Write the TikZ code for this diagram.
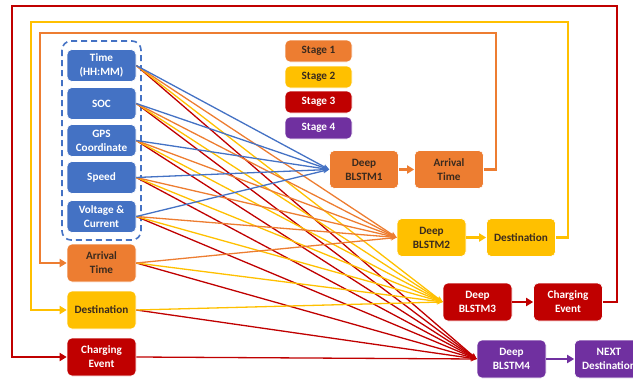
\documentclass[tikz,border=0pt]{standalone}
\usepackage{fontspec}
\setmainfont{Carlito}
\usetikzlibrary{arrows.meta}
\definecolor{cblue}{HTML}{4472C4}
\definecolor{corange}{HTML}{ED7D31}
\definecolor{cyellow}{HTML}{FFC000}
\definecolor{cred}{HTML}{C00000}
\definecolor{cpurple}{HTML}{7030A0}
\definecolor{ctext}{HTML}{3A2A1E}
\tikzset{
  box/.style={rounded corners=5pt, minimum width=69pt, minimum height=38pt, inner sep=1pt,
    align=center, font=\fontsize{11.2}{14}\selectfont\bfseries, draw=white, line width=0.6pt},
  bluebox/.style={box, fill=cblue, text=white, minimum height=32pt},
  orangebox/.style={box, fill=corange, text=ctext},
  yellowbox/.style={box, fill=cyellow, text=ctext},
  redbox/.style={box, fill=cred, text=white},
  purplebox/.style={box, fill=cpurple, text=white},
  legend/.style={box, minimum width=67pt, minimum height=22pt},
  fan/.style={line width=1.3pt, -{Stealth[length=6pt,width=5pt]}},
  loop/.style={line width=2.6pt, -{Triangle[length=7pt,width=8pt]}},
  link/.style={line width=2.6pt, -{Triangle[length=7pt,width=8pt]}}
}
\begin{document}
\begin{tikzpicture}[x=1pt,y=-1pt]
\useasboundingbox (0,0) rectangle (633,380);
% input nodes
\node[bluebox] (time) at (101.5,65.5) {Time\\(HH:MM)};
\node[bluebox] (soc) at (101.5,103.5) {SOC};
\node[bluebox] (gps) at (101.5,140.5) {GPS\\Coordinate};
\node[bluebox] (speed) at (101.5,177.5) {Speed};
\node[bluebox] (volt) at (101.5,216.5) {Voltage \&\\Current};
\draw[cblue, line width=1.6pt, dash pattern=on 6pt off 4pt, rounded corners=9pt] (62,41) rectangle (141,240);
\node[orangebox] (arrL) at (101.5,263) {Arrival\\Time};
\node[yellowbox] (destL) at (101.5,310) {Destination};
\node[redbox] (chgL) at (101.5,357) {Charging\\Event};
% legend
\node[legend, fill=corange, text=ctext] (s1) at (318.5,51) {Stage 1};
\node[legend, fill=cyellow, text=ctext] (s2) at (318.5,77) {Stage 2};
\node[legend, fill=cred, text=white] (s3) at (318.5,102) {Stage 3};
\node[legend, fill=cpurple, text=white] (s4) at (318.5,128) {Stage 4};
% stage nodes
\node[orangebox] (b1) at (364,169.5) {Deep\\BLSTM1};
\node[orangebox] (arrR) at (449,169.5) {Arrival\\Time};
\node[yellowbox] (b2) at (431.5,237.5) {Deep\\BLSTM2};
\node[yellowbox] (destR) at (521,237.5) {Destination};
\node[redbox] (b3) at (477.5,302) {Deep\\BLSTM3};
\node[redbox] (chgR) at (568,302) {Charging\\Event};
\node[purplebox] (b4) at (511.5,359) {Deep\\BLSTM4};
\node[purplebox] (next) at (609,359) {NEXT\\Destination};
% fans
\foreach \s in {time,soc,gps,speed,volt} {
  \draw[fan, cred] (\s.east) -- (b4.west);
  \draw[fan, cyellow] (\s.east) -- (b3.west);
  \draw[fan, corange] (\s.east) -- (b2.west);
  \draw[fan, cblue] (\s.east) -- (b1.west);
}
\draw[fan, cred] (arrL.east) -- (b4.west);
\draw[fan, cyellow] (arrL.east) -- (b3.west);
\draw[fan, corange] (arrL.east) -- (b2.west);
\draw[fan, cred] (destL.east) -- (b4.west);
\draw[fan, cyellow] (destL.east) -- (b3.west);
\draw[fan, cred] (chgL.east) -- (b4.west);
% links
\draw[link, corange] (b1) -- (arrR);
\draw[link, cyellow] (b2) -- (destR);
\draw[link, cred] (b3) -- (chgR);
\draw[link, cpurple] (b4) -- (next);
% loops
\coordinate (o1) at (496,169.5); \coordinate (o2) at (496,33); \coordinate (o3) at (40,33); \coordinate (o4) at (40,263);
\draw[loop, corange] (arrR.east) -- (o1) -- (o2) -- (o3) -- (o4) -- (arrL.west);
\coordinate (y1) at (568,237.5); \coordinate (y2) at (568,22); \coordinate (y3) at (31,22); \coordinate (y4) at (31,310);
\draw[loop, cyellow] (destR.east) -- (y1) -- (y2) -- (y3) -- (y4) -- (destL.west);
\coordinate (r1) at (617,302); \coordinate (r2) at (617,6); \coordinate (r3) at (12,6); \coordinate (r4) at (12,357);
\draw[loop, cred] (chgR.east) -- (r1) -- (r2) -- (r3) -- (r4) -- (chgL.west);
\end{tikzpicture}
\end{document}
